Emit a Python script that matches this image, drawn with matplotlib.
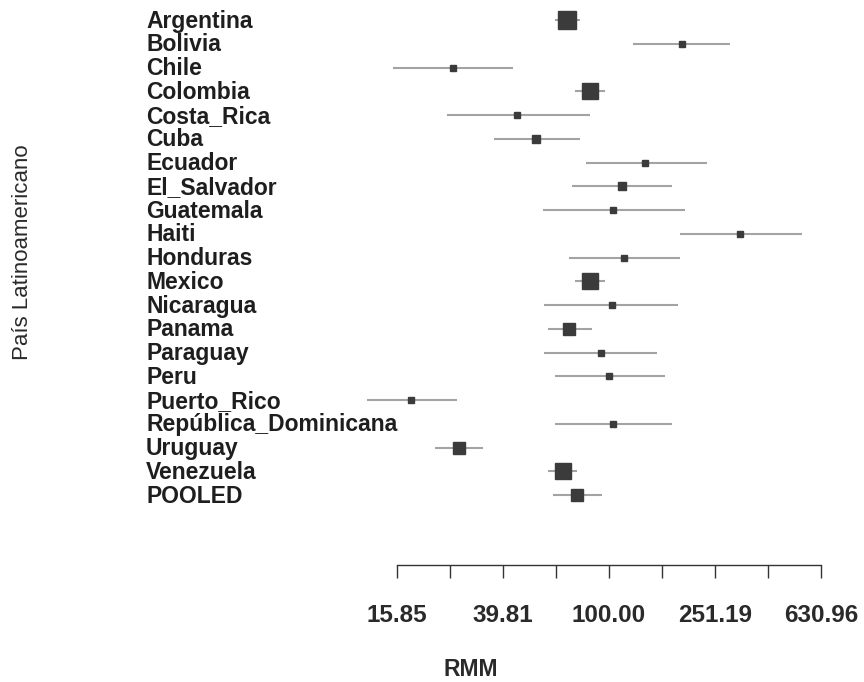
import numpy as np
import matplotlib.pyplot as plt
from matplotlib.transforms import blended_transform_factory

paises = ["Argentina", "Bolivia", "Chile", "Colombia", "Costa_Rica", "Cuba",
          "Ecuador", "El_Salvador", "Guatemala", "Haiti", "Honduras", "Mexico",
          "Nicaragua", "Panama", "Paraguay", "Peru", "Puerto_Rico",
          "República_Dominicana", "Uruguay", "Venezuela", "POOLED"]
rmm = [69.3, 188.3, 25.8, 84.9, 44.9, 53.1, 136.9, 111.8, 103.9, 312.3, 114.4,
       84.9, 102.5, 70.9, 93.4, 100.4, 17.9, 103.4, 27.3, 67.0, 76.0]
ic_inf = [62.7, 123.7, 15.4, 74.5, 24.5, 36.9, 82.0, 72.4, 56.6, 185.5, 70.9,
          74.5, 56.9, 59.1, 56.9, 62.7, 12.2, 62.7, 22.1, 59.1, 61.7]
ic_sup = [77.8, 286.0, 43.6, 96.8, 84.9, 77.8, 233.9, 172.6, 193.8, 533.6, 185.5,
          96.8, 182.8, 86.1, 152.3, 162.8, 26.7, 172.6, 33.6, 75.7, 94.0]
peso = [17.6, 2.0, 1.4, 15.7, 1.4, 2.7, 1.4, 2.7, 1.4, 1.4, 2.0, 15.7, 1.4,
        6.6, 2.0, 2.0, 1.4, 1.4, 6.6, 13.9, 7.8]

ticks = 10 ** np.arange(1.2, 2.81, 0.2)
tick_labels = ["15.85", "", "39.81", "", "100.00", "", "251.19", "", "630.96"]

W, H = 864, 682
fig = plt.figure(figsize=(W / 100, H / 100), dpi=100)
plt.rcParams['font.family'] = ['Liberation Sans', 'DejaVu Sans']

# geometria en pixeles del grafico escaneado
px_per_dec = 0.2 / 0.003771 * 5
x0_px, x_left, x_right = 396.7, 340, 864
ax = fig.add_axes([x_left / W, (H - 565) / H, (x_right - x_left) / W, 565 / H])
ax.set_xscale("log")
ax.set_xlim(10 ** (1.2 + (x_left - x0_px) / px_per_dec),
            10 ** (1.2 + (x_right - x0_px) / px_per_dec))

y = np.arange(len(paises))
row0, paso = 20, 23.75
ax.set_ylim((565 - row0) / paso, -row0 / paso)

gris = "#a3a3a3"
caja = "#3b3b3b"
for i in range(len(paises)):
    ax.plot([ic_inf[i], ic_sup[i]], [y[i], y[i]], color=gris, lw=1.5,
            solid_capstyle="butt", zorder=1)
    lado = 4.29 * np.sqrt(peso[i]) * 0.72
    ax.plot(rmm[i], y[i], marker="s", ms=lado, color=caja, mec=caja, zorder=2)

tr = blended_transform_factory(fig.transFigure, ax.transData)
for i, p in enumerate(paises):
    ax.text(146 / W, y[i] + 0.05, p, transform=tr, ha="left", va="center",
            fontsize=16.5, fontweight="bold", color="#1e1e1e")

for s in ["top", "right", "left"]:
    ax.spines[s].set_visible(False)
ax.spines["bottom"].set_bounds(ticks[0], ticks[-1])
ax.spines["bottom"].set_color("#333333")
ax.spines["bottom"].set_linewidth(1.0)
ax.set_yticks([])
ax.set_xticks(ticks)
ax.set_xticklabels(tick_labels)
ax.minorticks_off()
ax.tick_params(axis="x", which="major", direction="out", length=9.4, width=1.0,
               color="#333333", pad=19, labelsize=17.5, labelcolor="#2a2a2a")
for lbl in ax.get_xticklabels():
    lbl.set_fontweight("bold")

fig.text(471 / W, 1 - 670 / H, "RMM", ha="center", va="center",
         fontsize=16.5, fontweight="bold", color="#2a2a2a")
fig.text(23 / W, 1 - 252 / H, "País Latinoamericano", rotation=90,
         ha="center", va="center", fontsize=16, color="#2a2a2a")

fig.savefig("out.png", dpi=100, facecolor="white")
